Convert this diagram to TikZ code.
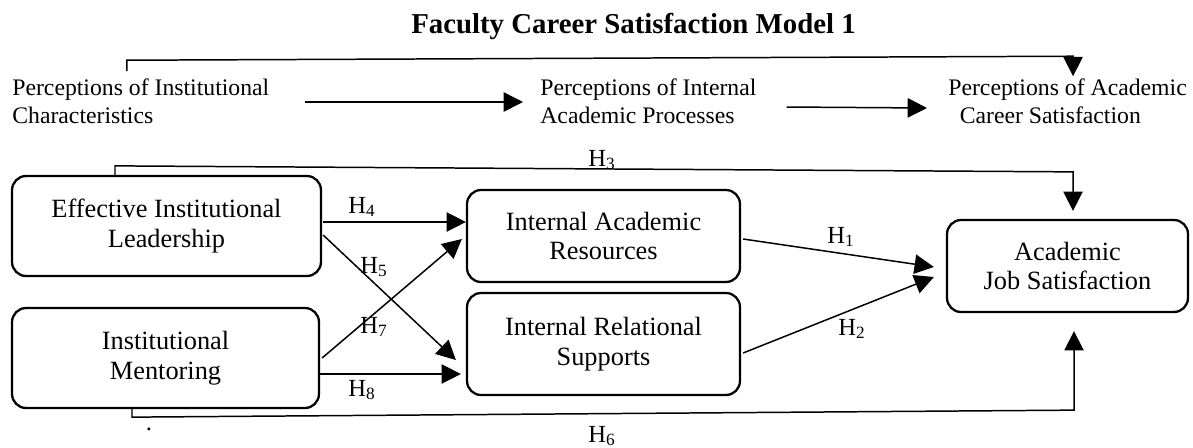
\documentclass[tikz,border=0pt]{standalone}
\usepackage{fontspec}
\setmainfont{Liberation Serif}
\usetikzlibrary{arrows.meta,calc}

\tikzset{
  box/.style={draw,line width=1.3pt,rounded corners=8pt,align=center,
    font=\fontsize{15}{17}\selectfont,inner sep=0pt},
  lvl/.style={anchor=west,align=left,inner sep=0pt,
    font=\fontsize{13.5}{15.9}\selectfont},
  lbl/.style={anchor=base west,inner sep=0pt,font=\fontsize{14}{16}\selectfont},
  arr/.style={line width=0.85pt,-{Triangle[length=11pt,width=11pt]}}
}

\begin{document}
\begin{tikzpicture}[x=0.02cm,y=-0.02cm]
\useasboundingbox (0,0) rectangle (1193,447);

\node[anchor=base,font=\fontsize{16.4}{19}\selectfont\bfseries] (Title) at (633.5,33) {Faculty Career Satisfaction Model 1};

\node[lvl] (PInst) at (12,101) {Perceptions of Institutional\\Characteristics};
\node[lvl] (PProc) at (540,101) {Perceptions of Internal\\Academic Processes};
\node[lvl] (PSat) at (948,101) {Perceptions of Academic\\\hspace*{6.5pt}Career Satisfaction};

\node[box,minimum width=6.18cm,minimum height=2cm] (Leader) at (166.5,226) {Effective Institutional\\Leadership};
\node[box,minimum width=6.14cm,minimum height=2cm] (Mentor) at (165.5,358) {Institutional\\Mentoring};
\node[box,minimum width=5.46cm,minimum height=1.84cm] (Resrc) at (603.5,236) {Internal Academic\\Resources};
\node[box,minimum width=5.46cm,minimum height=2.04cm] (Supp) at (603.5,344) {Internal Relational\\Supports};
\node[box,minimum width=4.82cm,minimum height=1.84cm] (JobSat) at (1067.5,266) {Academic\\Job Satisfaction};

\draw[arr] ($(PInst.east)+(35,1)$) -- ($(PProc.west)+(-17,1)$);
\draw[arr] ($(PProc.east)+(30,6)$) -- ($(PSat.west)+(-21,7)$);
\draw[arr] ($(PInst.north)+(-14,-7)$) -- ++(0,-11) -- ($(PSat.north)+(5.5,-22)$) -- ($(PSat.north)+(5.5,-2)$);

\draw[arr] ($(Leader.north)+(-51.5,0)$) -- ++(0,-9) -- ($(JobSat.north)+(5.5,-47)$) -- ($(JobSat.north)+(5.5,-8)$);
\draw[arr] ($(Mentor.south)+(-33.5,0)$) -- ++(0,8) -- ($(JobSat.south)+(6.5,97)$) -- ($(JobSat.south)+(6.5,18)$);

\draw[arr] ($(Leader.east)+(1,-4)$) -- ($(Resrc.west)+(0,-14)$);
\draw[arr] ($(Leader.east)+(1,9)$) -- ($(Supp.west)+(-10,16)$);
\draw[arr] ($(Mentor.east)+(2,0)$) -- ($(Resrc.west)+(-4,3)$);
\draw[arr] ($(Mentor.east)+(0,16)$) -- ($(Supp.west)+(-5,30)$);
\draw[arr] ($(Resrc.east)+(2,3)$) -- ($(JobSat.west)+(-12,1)$);
\draw[arr] ($(Supp.east)+(2,9)$) -- ($(JobSat.west)+(-12,11)$);

\node[lbl] (H1) at (827,243) {H\textsubscript{1}};
\node[lbl] (H2) at (838,335) {H\textsubscript{2}};
\node[lbl] (H3) at (588,166) {H\textsubscript{3}};
\node[lbl] (H4) at (348,213) {H\textsubscript{4}};
\node[lbl] (H5) at (360,273) {H\textsubscript{5}};
\node[lbl] (H6) at (588,442) {H\textsubscript{6}};
\node[lbl] (H7) at (360,333) {H\textsubscript{7}};
\node[lbl] (H8) at (348,396) {H\textsubscript{8}};
\node[lbl,anchor=base] (Dot) at (149,430) {.};

\end{tikzpicture}
\end{document}
